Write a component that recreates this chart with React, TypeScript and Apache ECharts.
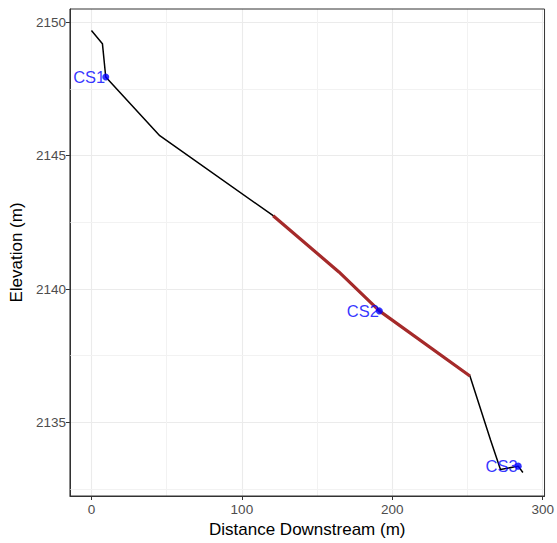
import React, { useEffect, useRef } from "react";
import * as echarts from "echarts";

const profileX = [0, 7.3, 9.5, 45.4, 120.8, 164.5, 191.4, 251.6, 265.3, 271.9, 283.7, 286.8];
const profileY = [2149.69, 2149.2, 2147.95, 2145.75, 2142.75, 2140.64, 2139.18, 2136.74, 2134.34, 2133.23, 2133.36, 2133.12];
const reachX = [120.8, 164.5, 191.4, 251.6];
const reachY = [2142.75, 2140.64, 2139.18, 2136.74];
const csNames = ["CS1", "CS2", "CS3"];
const csX = [9.5, 191.4, 283.7];
const csY = [2147.95, 2139.18, 2133.36];
const xTicks = [0, 100, 200, 300];
const yTicks = [2135, 2140, 2145, 2150];
const xMinor = [50, 150, 250];
const yMinor = [2132.5, 2137.5, 2142.5, 2147.5];

export default function App() {
  const ref = useRef<HTMLDivElement>(null);
  useEffect(() => {
    if (!ref.current) return;
    const chart = echarts.init(ref.current, undefined, { renderer: "svg" });
    const font = "Liberation Sans, Arial, sans-serif";
    const tickColor = "#333333";
    chart.setOption({
      animation: false,
      backgroundColor: "#ffffff",
      grid: {
        left: 69,
        right: 11,
        top: 9,
        bottom: 40,
        show: true,
        borderColor: "#333333",
        borderWidth: 1,
        backgroundColor: "transparent",
        z: 3,
      },
      xAxis: {
        type: "value",
        min: -14.3,
        max: 301.2,
        name: "Distance Downstream (m)",
        nameLocation: "middle",
        nameGap: 25,
        nameTextStyle: { color: "#000000", fontSize: 17, fontFamily: font },
        axisLine: { show: true, onZero: false, lineStyle: { color: tickColor, width: 1 } },
        axisTick: { show: true, length: 4, customValues: xTicks, lineStyle: { color: tickColor } },
        axisLabel: { customValues: xTicks, formatter: (v: number) => String(v), color: "#4d4d4d", fontSize: 13.5, fontFamily: font, margin: 6 },
        splitLine: { show: true, lineStyle: { color: "#ebebeb", width: 1.1 } },
      },
      yAxis: {
        type: "value",
        min: 2132.24,
        max: 2150.5,
        name: "Elevation (m)",
        nameLocation: "middle",
        nameGap: 41,
        nameRotate: 90,
        nameTextStyle: { color: "#000000", fontSize: 17, fontFamily: font },
        axisLine: { show: true, onZero: false, lineStyle: { color: tickColor, width: 1 } },
        axisTick: { show: true, length: 4, customValues: yTicks, lineStyle: { color: tickColor } },
        axisLabel: { customValues: yTicks, formatter: (v: number) => String(v), color: "#4d4d4d", fontSize: 13.5, fontFamily: font, margin: 4 },
        splitLine: { show: true, lineStyle: { color: "#ebebeb", width: 1.1 } },
      },
      series: [
        {
          type: "line",
          data: [],
          z: 1,
          silent: true,
          markLine: {
            silent: true,
            z: 1,
            symbol: "none",
            label: { show: false },
            lineStyle: { color: "#f2f2f2", width: 1, type: "solid" },
            data: [
              ...xMinor.map((v) => ({ xAxis: v })),
              ...yMinor.map((v) => ({ yAxis: v })),
            ],
          },
        },
        {
          type: "line",
          data: profileX.map((x, i) => [x, profileY[i]]),
          showSymbol: false,
          symbol: "none",
          lineStyle: { color: "#000000", width: 1.5 },
          z: 10,
        },
        {
          type: "line",
          data: reachX.map((x, i) => [x, reachY[i]]),
          showSymbol: false,
          symbol: "none",
          lineStyle: { color: "#a52a2a", width: 3.2 },
          z: 11,
        },
        {
          type: "scatter",
          data: csX.map((x, i) => ({ value: [x, csY[i]], name: csNames[i] })),
          symbolSize: 7,
          itemStyle: { color: "#0000ff" },
          z: 12,
          label: {
            show: true,
            position: "left",
            distance: -3,
            formatter: (p: any) => p.name,
            color: "#0000ff",
            fontSize: 16.5,
            fontFamily: font,
          },
        },
      ],
    });
    return () => chart.dispose();
  }, []);
  return <div ref={ref} style={{ position: "fixed", left: 0, top: 0, width: 557, height: 543 }} />;
}
